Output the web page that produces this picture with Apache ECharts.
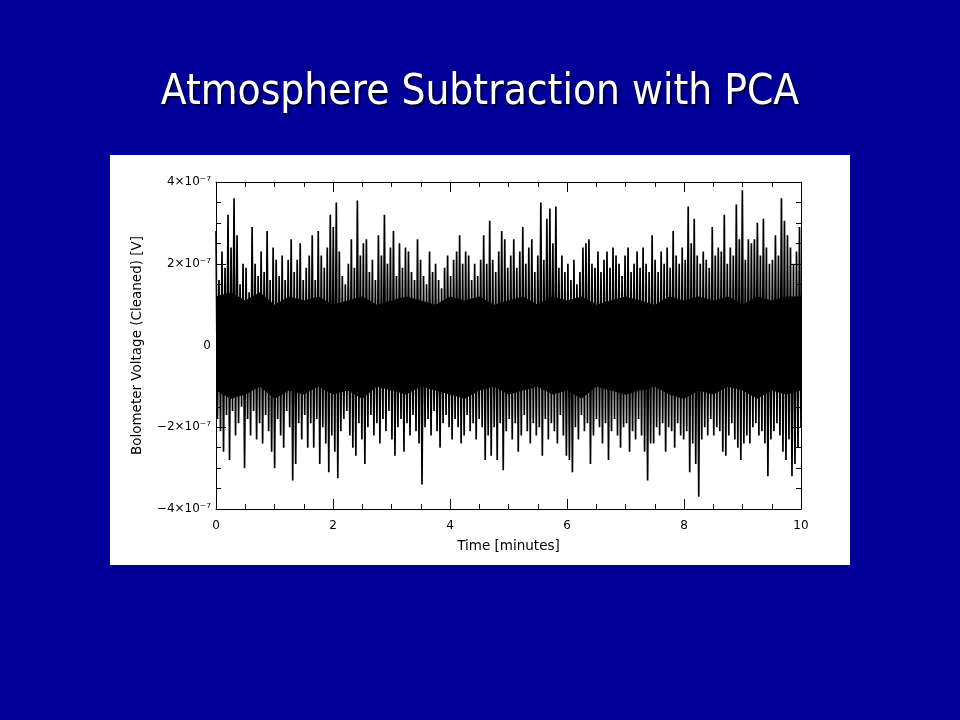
<!DOCTYPE html>
<html>
<head>
<meta charset="utf-8">
<script src="https://cdn.jsdelivr.net/npm/echarts@6/dist/echarts.min.js"></script>
<style>
html,body{margin:0;padding:0;background:#000099;}
#c{width:960px;height:720px;}
</style>
</head>
<body>
<div id="c"></div>
<script>
// Values in units of 1e-7 V, read column by column (upper and lower excursions)
const upperE7 = [
2.8,1.6,2.3,1.9,3.2,2.4,3.6,2.7,1.5,2.0,1.9,1.3,2.9,2.0,1.7,2.3,1.8,2.8,1.6,2.4,
2.1,1.7,2.2,1.6,2.1,2.6,1.8,2.1,2.5,1.6,1.9,2.2,2.7,1.6,2.8,2.2,1.9,2.4,3.2,2.9,
3.5,2.3,1.7,1.5,2.0,2.6,1.9,3.55,2.2,2.5,2.6,1.8,2.1,1.6,2.7,2.2,3.2,2.0,2.4,2.8,
1.7,2.5,1.9,2.4,2.3,1.8,1.6,2.6,2.1,1.7,1.5,2.3,1.8,2.0,1.6,1.4,1.9,2.2,1.7,2.1,
2.3,2.7,2.0,2.3,2.2,1.6,2.0,1.7,2.1,2.7,2.0,3.05,2.1,1.8,2.3,2.8,2.6,1.9,2.2,2.6,
1.9,2.3,2.9,2.0,2.4,2.6,1.8,2.2,3.5,2.1,3.1,3.35,2.5,3.4,1.9,2.2,1.8,2.0,1.6,2.1,
1.5,1.8,2.4,2.5,2.6,2.0,1.9,2.3,1.8,2.1,2.3,1.9,2.4,2.2,2.0,1.7,2.2,2.4,1.8,2.0,
2.3,1.9,2.4,2.0,1.8,2.7,2.1,1.8,2.3,2.0,2.4,1.9,2.8,2.2,2.0,2.4,2.1,3.4,2.5,3.1,
2.2,2.0,2.3,2.1,1.9,2.9,2.2,2.4,2.3,3.2,2.0,2.4,2.2,3.45,2.6,3.8,2.1,2.6,2.5,2.6,
3.0,2.2,3.1,2.4,2.0,2.1,2.7,2.2,3.6,3.05,2.7,2.4,2.0,2.3,2.9
];
const lowerE7 = [
-1.8,-2.1,-2.6,-1.7,-2.8,-1.6,-2.2,-1.9,-1.5,-3.0,-1.8,-2.2,-1.6,-2.3,-1.9,-2.4,-1.7,-2.1,-2.6,-3.0,
-1.8,-2.2,-2.5,-1.6,-2.0,-3.3,-2.9,-1.9,-2.3,-1.7,-2.5,-1.9,-2.5,-1.8,-2.9,-2.0,-2.4,-3.1,-2.2,-2.6,
-3.25,-2.1,-1.8,-1.6,-2.2,-2.5,-2.7,-1.9,-2.3,-2.9,-2.0,-1.7,-2.2,-1.9,-2.4,-1.8,-2.1,-1.6,-2.3,-2.7,
-2.0,-1.8,-2.6,-1.9,-2.2,-1.7,-2.1,-2.4,-3.4,-2.0,-1.8,-2.2,-1.6,-2.1,-2.5,-1.9,-1.7,-2.0,-2.3,-1.8,
-2.0,-2.4,-2.2,-1.7,-2.1,-1.9,-2.3,-1.8,-2.0,-2.8,-2.2,-2.7,-2.0,-2.8,-1.9,-3.05,-2.1,-1.8,-2.3,-1.9,
-2.6,-2.2,-1.7,-2.1,-2.4,-1.9,-2.2,-2.0,-2.7,-1.8,-2.3,-1.9,-2.1,-2.4,-1.7,-2.2,-2.7,-2.8,-3.1,-2.0,
-2.3,-1.7,-2.1,-1.9,-2.9,-2.2,-1.8,-2.0,-2.4,-1.9,-2.8,-2.1,-1.8,-2.2,-2.5,-2.0,-1.9,-2.6,-2.1,-2.3,
-1.8,-2.2,-2.6,-3.3,-2.4,-2.4,-2.0,-2.2,-1.9,-2.6,-2.0,-2.1,-2.5,-1.9,-2.2,-2.3,-2.1,-3.1,-2.4,-2.9,
-3.7,-2.3,-2.0,-2.2,-1.8,-2.2,-2.0,-2.1,-2.6,-2.7,-2.2,-1.9,-2.3,-2.5,-2.8,-2.4,-2.2,-2.4,-2.0,-1.9,
-2.2,-2.1,-2.4,-3.2,-2.3,-2.1,-1.9,-2.2,-2.6,-2.8,-2.3,-3.2,-2.9,-2.5,-2.0
];
// solid dense core of the trace, read every 0.25 minutes (units 1e-7 V)
const coreUpperE7 = [1.2,1.3,1.1,1.3,1.0,1.2,1.1,1.2,1.0,1.1,1.2,1.0,1.1,1.2,1.1,1.0,1.2,1.1,1.2,1.0,
  1.1,1.2,1.0,1.2,1.1,1.2,1.0,1.1,1.2,1.1,1.0,1.2,1.1,1.2,1.1,1.2,1.0,1.2,1.1,1.2,1.2];
const coreLowerE7 = [-1.1,-1.3,-1.2,-1.0,-1.3,-1.1,-1.2,-1.0,-1.2,-1.1,-1.3,-1.0,-1.1,-1.2,-1.0,-1.1,-1.2,-1.3,-1.1,-1.0,
  -1.2,-1.1,-1.0,-1.2,-1.1,-1.3,-1.0,-1.1,-1.2,-1.1,-1.0,-1.2,-1.3,-1.1,-1.2,-1.0,-1.1,-1.3,-1.1,-1.2,-1.1];
const coreStepMin = 0.25;
const xTicks = [0, 2, 4, 6, 8, 10];
const yTicksE7 = [-4, -2, 0, 2, 4];
const durationMin = 10;

// interleave upper/lower excursions into one sampled trace
const nSamples = upperE7.length * 2;
const trace = [];
for (let i = 0; i < upperE7.length; i++) {
  trace.push([ (2*i) * durationMin / (nSamples - 1), upperE7[i] ]);
  trace.push([ (2*i+1) * durationMin / (nSamples - 1), lowerE7[i] ]);
}
const coreUp = coreUpperE7.map((v, i) => [i * coreStepMin, v]);
const coreLo = coreLowerE7.map((v, i) => [i * coreStepMin, v]);

const chart = echarts.init(document.getElementById('c'), null, {renderer: 'canvas'});
const fnt = 'DejaVu Sans';
function yLabel(v){ if (v === 0) return '0'; return (v < 0 ? '\u2212' : '') + Math.abs(v) + '\u00d710\u207b\u2077'; }
function axisCommon() {
  return {
    axisLine: {show: true, onZero: false, lineStyle: {color: '#000', width: 1}},
    axisTick: {show: true, inside: true, length: 10, lineStyle: {color: '#000'}},
    minorTick: {show: true, splitNumber: 4, length: 5, lineStyle: {color: '#000'}},
    splitLine: {show: false}, minorSplitLine: {show: false}
  };
}
chart.setOption({
  backgroundColor: '#000099',
  animation: false,
  title: {
    text: 'Atmosphere Subtraction with PCA',
    left: 'center', top: 67,
    textStyle: {color: '#fff', fontFamily: 'DejaVu Sans Condensed, DejaVu Sans', fontWeight: 'normal', fontSize: 42,
      textShadowColor: '#000033', textShadowOffsetX: 2, textShadowOffsetY: 2, textShadowBlur: 1}
  },
  graphic: [{type: 'rect', z: -10, shape: {x: 110, y: 155, width: 740, height: 410}, style: {fill: '#fff'}}],
  grid: {left: 216, right: 159, top: 182, bottom: 211, containLabel: false},
  xAxis: [
    Object.assign(axisCommon(), {
      type: 'value', min: 0, max: 10, interval: 2, position: 'bottom',
      name: 'Time [minutes]', nameLocation: 'middle', nameGap: 30,
      nameTextStyle: {color: '#000', fontFamily: fnt, fontSize: 13.5},
      axisLabel: {color: '#000', fontFamily: fnt, fontSize: 12, margin: 11,
        formatter: v => xTicks.includes(v) ? String(v) : ''}
    }),
    Object.assign(axisCommon(), {
      type: 'value', min: 0, max: 10, interval: 2, position: 'top', axisLabel: {show: false}
    })
  ],
  yAxis: [
    Object.assign(axisCommon(), {
      type: 'value', min: -4, max: 4, interval: 2, position: 'left',
      name: 'Bolometer Voltage (Cleaned) [V]', nameLocation: 'middle', nameGap: 72,
      nameTextStyle: {color: '#000', fontFamily: fnt, fontSize: 13.5},
      axisLabel: {color: '#000', fontFamily: fnt, fontSize: 12, margin: 5,
        formatter: v => yTicksE7.includes(v) ? yLabel(v) : ''}
    }),
    Object.assign(axisCommon(), {
      type: 'value', min: -4, max: 4, interval: 2, position: 'right', axisLabel: {show: false}
    })
  ],
  series: [
    {type: 'line', data: coreUp, showSymbol: false, symbol: 'none', z: 1,
     lineStyle: {width: 0}, areaStyle: {color: '#000', opacity: 1, origin: -0.5}},
    {type: 'line', data: coreLo, showSymbol: false, symbol: 'none', z: 1,
     lineStyle: {width: 0}, areaStyle: {color: '#000', opacity: 1, origin: 0.5}},
    {type: 'line', data: trace, showSymbol: false, symbol: 'none', sampling: null, clip: true, z: 2,
     lineStyle: {color: '#000', width: 1.7}}
  ]
});
</script>
</body>
</html>
